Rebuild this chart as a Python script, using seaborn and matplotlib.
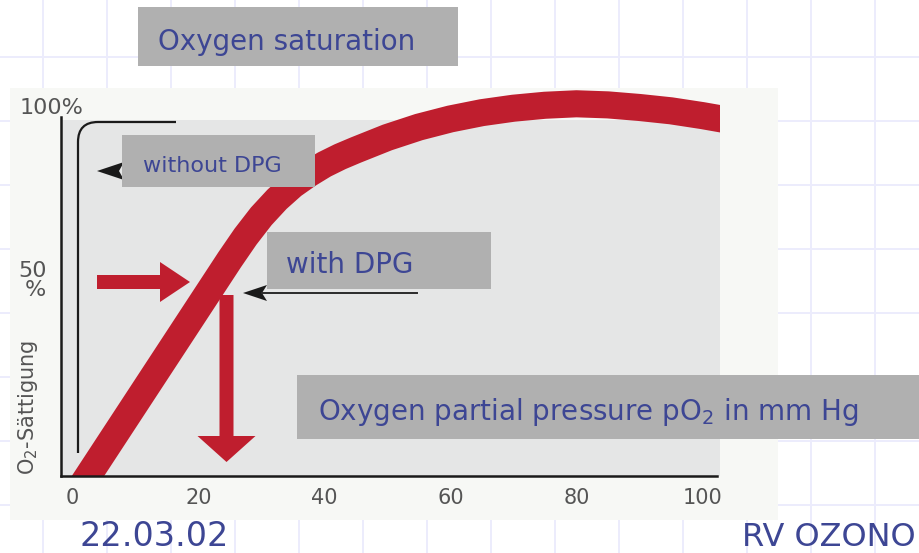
import matplotlib
matplotlib.use("Agg")
import matplotlib.pyplot as plt
import seaborn as sns
from matplotlib.patches import Rectangle, Polygon, FancyArrow, PathPatch
from matplotlib.path import Path

# ---------------- data ----------------
po2 = [2.5, 5, 10, 15, 20, 25, 27.5, 30, 32.5, 35, 37.5, 40, 42.5, 45, 50, 55, 60, 65, 70,
       75, 80, 85, 90, 95, 100, 103]
sat = [0, 6.5, 19.5, 32.5, 45.5, 58.5, 64.7, 70.2, 74.8, 78.6, 81.6, 84.2, 86.3, 88.1, 91.5,
       94.3, 96.5, 98.2, 99.4, 100.2, 100.6, 100.3, 99.6, 98.7, 97.4, 96.5]
x_ticks = [0, 20, 40, 60, 80, 100]
x_ticklabels = ["0", "20", "40", "60", "80", "100"]
y_label_100 = "100%"
y_label_50 = "50"
y_label_pct = "%"
y_axis_title = "O$_2$-Sättigung"
title_text = "Oxygen saturation"
label_without = "without DPG"
label_with = "with DPG"
x_axis_title = "Oxygen partial pressure pO$_2$ in mm Hg"
footer_left = "22.03.02"
footer_right = "RV OZONO"

RED = "#BF1E2E"
BOX = "#B0B0B0"
BLUE = "#3D4694"
SCAN_TXT = "#555555"

W, H = 920, 553
fig = plt.figure(figsize=(W / 100, H / 100), dpi=100)

# ---------------- slide background (pixel coords) ----------------
bg = fig.add_axes([0, 0, 1, 1], zorder=0)
bg.set_xlim(0, W)
bg.set_ylim(H, 0)
bg.axis("off")
for gx in range(43, W, 64):
    bg.axvline(gx, color="#ECECFC", lw=1.4, zorder=0)
for gy in range(57, H, 64):
    bg.axhline(gy, color="#ECECFC", lw=1.4, zorder=0)
bg.add_patch(Rectangle((10, 88), 768, 432, fc="#F7F8F5", ec="none", zorder=1))
bg.add_patch(Rectangle((62, 120), 658, 356, fc="#E5E6E6", ec="none", zorder=2))

# ---------------- data axes ----------------
# pixel mapping: x_px = 72.2 + 6.303*x ; y_px = 476 - 3.7*y
def xd(px):
    return (px - 72.2) / 6.303

def yd(py):
    return (476 - py) / 3.7

ax = fig.add_axes([61 / W, (H - 476) / H, (720 - 61) / W, (476 - 88) / H], zorder=1)
ax.set_facecolor("none")
sns.lineplot(x=po2, y=sat, ax=ax, color=RED, linewidth=19.5, sort=False,
             estimator=None, solid_capstyle="projecting", solid_joinstyle="round")
ax.set_xlim(xd(61), xd(720))
ax.set_ylim(0, yd(88))
for s in ["top", "right"]:
    ax.spines[s].set_visible(False)
ax.spines["left"].set_bounds(0, yd(117))
ax.spines["bottom"].set_bounds(xd(61), xd(717))
for s in ["left", "bottom"]:
    ax.spines[s].set_linewidth(1.8)
    ax.spines[s].set_color("#1a1a1a")
ax.set_xticks(x_ticks, x_ticklabels)
ax.set_yticks([])
ax.tick_params(axis="x", length=0, pad=9, labelsize=15, labelcolor=SCAN_TXT)
ax.set_xlabel("")
ax.set_ylabel("")
ax.text(xd(51), 99.5, y_label_100, ha="center", va="center", fontsize=16, color=SCAN_TXT)
ax.text(xd(33), 55.5, y_label_50, ha="center", va="center", fontsize=16, color=SCAN_TXT)
ax.text(xd(35), 50.2, y_label_pct, ha="center", va="center", fontsize=16, color=SCAN_TXT)

# ---------------- overlay (pixel coords) ----------------
top = fig.add_axes([0, 0, 1, 1], zorder=3)
top.set_xlim(0, W)
top.set_ylim(H, 0)
top.axis("off")
top.set_facecolor("none")

top.text(28, 407, y_axis_title, rotation=90, ha="center", va="center",
         fontsize=15, color=SCAN_TXT)

# "without DPG" bracket and arrow head
verts = [(78, 453), (78, 142), (78, 122), (98, 122), (176, 122)]
codes = [Path.MOVETO, Path.LINETO, Path.CURVE3, Path.CURVE3, Path.LINETO]
top.add_patch(PathPatch(Path(verts, codes), fc="none", ec="#1a1a1a", lw=1.6))
top.add_patch(Polygon([(97, 171), (124, 162), (119, 171), (124, 180)], closed=True,
                      fc="#1a1a1a", ec="none"))
# "with DPG" arrow
top.plot([262, 417], [293, 293], color="#2a2a2a", lw=1.4)
top.add_patch(Polygon([(243, 293), (267, 285), (262, 293), (267, 301)], closed=True,
                      fc="#1a1a1a", ec="none"))

# red arrows
top.add_patch(FancyArrow(97, 282, 93, 0, width=14, head_width=40, head_length=30,
                         length_includes_head=True, fc=RED, ec="none"))
top.add_patch(FancyArrow(226.5, 295, 0, 167, width=14, head_width=58, head_length=26,
                         length_includes_head=True, fc=RED, ec="none"))

# grey slide text boxes
top.add_patch(Rectangle((138, 7), 320, 59, fc=BOX, ec="none"))
top.text(158, 50, title_text, ha="left", va="baseline", fontsize=20, color=BLUE)
top.add_patch(Rectangle((122, 135), 193, 52, fc=BOX, ec="none"))
top.text(143, 172, label_without, ha="left", va="baseline", fontsize=16, color=BLUE)
top.add_patch(Rectangle((267, 232), 224, 57, fc=BOX, ec="none"))
top.text(286, 273, label_with, ha="left", va="baseline", fontsize=20, color=BLUE)
top.add_patch(Rectangle((297, 375), 623, 64, fc=BOX, ec="none"))
top.text(318, 420, x_axis_title, ha="left", va="baseline", fontsize=20, color=BLUE)

top.text(80, 546, footer_left, ha="left", va="baseline", fontsize=24, color=BLUE)
top.text(916, 546, footer_right, ha="right", va="baseline", fontsize=23, color=BLUE)

fig.savefig("out.png", dpi=100)
